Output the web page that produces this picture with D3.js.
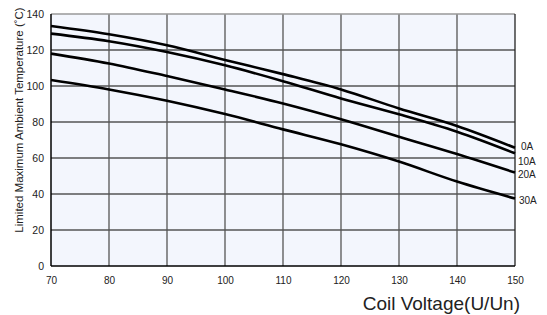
<!DOCTYPE html>
<html>
<head>
<meta charset="utf-8">
<script src="https://cdn.jsdelivr.net/npm/d3@7"></script>
<style>
body { margin: 0; background: #fff; }
text { font-family: "Liberation Sans", Arial, sans-serif; fill: #222; }
</style>
</head>
<body>
<svg id="chart" width="547" height="315"></svg>
<script>
var voltages = [70, 80, 90, 100, 110, 120, 130, 140, 150];
var seriesNames = ['0A', '10A', '20A', '30A'];
var temp0A = [133.3, 128.7, 122.6, 114.5, 106.6, 98.1, 87.5, 77.8, 65.7];
var temp10A = [129.1, 124.9, 118.9, 111.5, 102.7, 93.1, 84.3, 74.6, 62.6];
var temp20A = [118, 112.5, 105.5, 98.1, 90.3, 81.5, 71.8, 62.2, 51.9];
var temp30A = [103.3, 98.1, 91.8, 84.4, 75.9, 67.6, 58, 46.9, 37.5];
var xTicks = [70, 80, 90, 100, 110, 120, 130, 140, 150];
var yTicks = [0, 20, 40, 60, 80, 100, 120, 140];
// label nudges (px) so the end labels do not collide
var labelDy = [-1.5, 8, 1.5, 1.5];
var labelDx = [6, 3, 3, 4];

var series = [temp0A, temp10A, temp20A, temp30A];

var svg = d3.select('#chart');
var x = d3.scaleLinear().domain([70, 150]).range([51, 515]);
var y = d3.scaleLinear().domain([0, 140]).range([266, 14]);

// plot background
svg.append('rect')
    .attr('x', x(70))
    .attr('y', y(140))
    .attr('width', x(150) - x(70))
    .attr('height', y(0) - y(140))
    .style('fill', '#f3f6fd');

// grid
svg.selectAll('.vgrid')
    .data(xTicks.slice(1, -1))
    .enter()
    .append('line')
    .attr('class', 'vgrid')
    .attr('x1', function (d) { return x(d); })
    .attr('x2', function (d) { return x(d); })
    .attr('y1', y(140))
    .attr('y2', y(0))
    .style('stroke', '#555')
    .style('stroke-width', 1.3);
svg.selectAll('.hgrid')
    .data(yTicks.slice(1, -1))
    .enter()
    .append('line')
    .attr('class', 'hgrid')
    .attr('x1', x(70))
    .attr('x2', x(150))
    .attr('y1', function (d) { return y(d); })
    .attr('y2', function (d) { return y(d); })
    .style('stroke', '#555')
    .style('stroke-width', 1.3);

// frame
svg.append('line')
    .attr('x1', x(70)).attr('x2', x(150))
    .attr('y1', y(140)).attr('y2', y(140))
    .style('stroke', '#999').style('stroke-width', 1.3);
svg.append('line')
    .attr('x1', x(150)).attr('x2', x(150))
    .attr('y1', y(140)).attr('y2', y(0))
    .style('stroke', '#222').style('stroke-width', 1.3);
svg.append('line')
    .attr('x1', x(70)).attr('x2', x(70))
    .attr('y1', y(140)).attr('y2', y(0))
    .style('stroke', '#000').style('stroke-width', 1.5);
svg.append('line')
    .attr('x1', x(70)).attr('x2', x(150))
    .attr('y1', y(0)).attr('y2', y(0))
    .style('stroke', '#000').style('stroke-width', 1.5);

// axes labels
var xAxis = d3.axisBottom(x).tickValues(xTicks).tickSize(0).tickPadding(11);
svg.append('g')
    .attr('transform', 'translate(0,' + y(0) + ')')
    .call(xAxis)
    .call(function (g) { g.select('.domain').remove(); })
    .selectAll('text')
    .style('font-size', '10px')
    .style('fill', '#222');
var yAxis = d3.axisLeft(y).tickValues(yTicks).tickSize(0).tickPadding(7);
svg.append('g')
    .attr('transform', 'translate(' + x(70) + ',0)')
    .call(yAxis)
    .call(function (g) { g.select('.domain').remove(); })
    .selectAll('text')
    .style('font-size', '10.5px')
    .style('fill', '#222');

// curves
var line = d3.line()
    .x(function (d, i) { return x(voltages[i]); })
    .y(function (d) { return y(d); })
    .curve(d3.curveMonotoneX);
svg.selectAll('.curve')
    .data(series)
    .enter()
    .append('path')
    .attr('class', 'curve')
    .attr('d', line)
    .style('fill', 'none')
    .style('stroke', '#000')
    .style('stroke-width', 2.6);

// series labels
svg.selectAll('.slabel')
    .data(seriesNames)
    .enter()
    .append('text')
    .attr('class', 'slabel')
    .attr('x', function (d, i) { return x(150) + labelDx[i]; })
    .attr('y', function (d, i) { return y(series[i][series[i].length - 1]) + labelDy[i]; })
    .attr('dy', '0.35em')
    .style('font-size', '10px')
    .text(function (d) { return d; });

// titles
svg.append('text')
    .attr('transform', 'translate(23,120) rotate(-90)')
    .attr('text-anchor', 'middle')
    .style('font-size', '11.5px')
    .text('Limited Maximum Ambient Temperature (˚C)');
svg.append('text')
    .attr('x', 520)
    .attr('y', 310)
    .attr('text-anchor', 'end')
    .style('font-size', '19px')
    .text('Coil Voltage(U/Un)');
</script>
</body>
</html>
